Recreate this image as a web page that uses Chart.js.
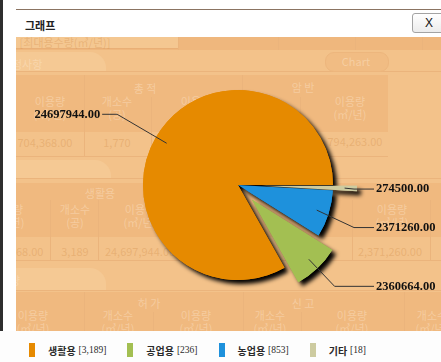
<!DOCTYPE html>
<html>
<head>
<meta charset="utf-8">
<script src="https://cdn.jsdelivr.net/npm/chart.js@4.4.0/dist/chart.umd.min.js"></script>
<style>
  html, body { margin: 0; padding: 0; background: #fff; }
  body { width: 441px; height: 362px; position: relative; overflow: hidden;
         font-family: "Noto Sans CJK KR", "Noto Sans", sans-serif; }
  .abs { position: absolute; }
  #frameLeft { left: 0; top: 0; width: 3px; height: 362px; background: #2f2f2f; }
  #topRule { left: 16px; top: 9px; width: 425px; height: 1px; background: #8b7462; }
  #title { left: 25px; top: 15px; font-weight: 700; font-size: 11px; color: #222; line-height: 20px; }
  #closeBtn { left: 412px; top: 13px; width: 36px; height: 18px; border: 1px solid #a3a3a3; border-radius: 3px;
              background: linear-gradient(#ffffff, #ececec); font: 12px "Liberation Sans", sans-serif;
              color: #111; line-height: 18px; text-indent: 12px; box-sizing: content-box; }
  #page { left: 16px; top: 37px; width: 425px; height: 294px; background: #F3C28A; overflow: hidden; }
  #page div { position: absolute; }
  .hd { color: rgba(255, 236, 214, 0.38); font-size: 11px; line-height: 13px; text-align: center; white-space: nowrap; }
  .num { color: rgba(212, 146, 80, 0.38); font-size: 11px; line-height: 13px; text-align: center; white-space: nowrap; }
  #chartBox { left: 16px; top: 37px; width: 425px; height: 294px; }
  #legend { left: 0; top: 331px; width: 441px; height: 31px; background: #fdfdfd;
            box-sizing: border-box; padding: 12px 0 0 29px; display: flex; }
  .item { display: flex; align-items: center; height: 14px; margin-right: 21px; }
  .sw { width: 6px; height: 14px; margin-right: 13px; }
  .kr { font-weight: 700; font-size: 10px; color: #2a2a2a; }
  .cnt { font-family: "Liberation Serif", serif; font-size: 9.5px; color: #2a2a2a; margin-left: 3px; }
</style>
</head>
<body>
<div id="frameLeft" class="abs"></div>
<div id="topRule" class="abs"></div>
<div id="title" class="abs">그래프</div>
<div id="closeBtn" class="abs">X</div>
<div id="page" class="abs"></div>
<div id="chartBox" class="abs"><canvas id="pie" width="425" height="294"></canvas></div>
<div id="legend" class="abs"></div>

<script>
// ---- chart data (legend order) ----
const categories  = ['생활용', '공업용', '농업용', '기타'];
const usage       = [24697944, 2360664, 2371260, 274500];   // 이용량
const siteCounts  = [3189, 236, 853, 18];                    // 개소수
const sliceColors = ['#E68A00', '#A3BF52', '#1E91DC', '#CDCBA0'];
const explode     = [0, 20, 0, 24];                          // slice pull-out, px

// slices run counter-clockwise from 3 o'clock, so the pie gets them reversed
const order = categories.map((_, i) => categories.length - 1 - i);

// ---- faded page underneath the dialog ----
const page = document.getElementById('page');
function box(x, y, w, h, css) {
  const d = document.createElement('div');
  d.style.cssText = `left:${x - 16}px;top:${y - 37}px;width:${w}px;height:${h}px;` + (css || '');
  page.appendChild(d);
}
function txt(cx, cy, html, cls) {
  const d = document.createElement('div');
  d.className = cls;
  d.innerHTML = html;
  page.appendChild(d);
  const r = d.getBoundingClientRect();
  d.style.left = (cx - 16 - r.width / 2) + 'px';
  d.style.top = (cy - 37 - r.height / 2) + 'px';
}
const band = 'background:#F0B97F;';
const tab = 'background:#F5C994;border-top-right-radius:16px;';
const rule = 'background:#EBB47C;';

box(16, 37, 425, 13, 'background:#EFB77D;');
box(16, 37, 162, 11, 'background:#F4C791;border-right:1px solid #E9AF76;border-bottom:1px solid #E9AF76;');
[178, 278, 355, 422].forEach(x => box(x, 37, 1, 13, rule));
box(16, 52, 90, 19, tab);
box(16, 71, 425, 1, rule);
box(325, 52, 62, 18, 'background:#F1BC83;border:1px solid #EDB67D;border-radius:9px;');
box(16, 75, 372, 57, band);
box(16, 156, 372, 1, rule);
[[84, 75, 81], [151, 97, 59], [242, 75, 81], [300, 97, 59]].forEach(v => box(v[0], v[1], 1, v[2], rule));
box(16, 160, 95, 18, tab);
box(16, 178, 425, 1, rule);
box(16, 183, 425, 54, band);
box(16, 260, 425, 1, rule);
[50, 98, 352, 430].forEach(x => box(x, 200, 1, 60, rule));
box(16, 268, 90, 22, tab);
box(16, 290, 425, 1, rule);
box(16, 292, 425, 39, band);
[[84, 292, 39], [153, 312, 19], [243, 292, 39], [301, 312, 19], [404, 292, 39]].forEach(v => box(v[0], v[1], 1, v[2], rule));

txt(65, 42, '[최대용수량(㎥/년)]', 'num');
txt(22, 64, '수정사항', 'hd');
txt(356, 61, 'Chart', 'hd');
txt(145, 88, '총 적', 'hd');
txt(303, 87, '암 반', 'hd');
txt(50, 108, '이용량<br>(㎥/년)', 'hd');
txt(117, 108, '개소수<br>(공)', 'hd');
txt(196, 108, '이용량<br>(㎥/년)', 'hd');
txt(350, 108, '이용량<br>(㎥/년)', 'hd');
txt(45, 142, '704,368.00', 'num');
txt(117, 142, '1,770', 'num');
txt(355, 141, '794,263.00', 'num');
txt(100, 193, '생활용', 'hd');
txt(8, 216, '이용량<br>(㎥/년)', 'hd');
txt(75, 216, '개소수<br>(공)', 'hd');
txt(140, 216, '이용량<br>(㎥/년)', 'hd');
txt(392, 216, '이용량<br>(㎥/년)', 'hd');
txt(16, 251, '704,368.00', 'num');
txt(75, 251, '3,189', 'num');
txt(140, 251, '24,697,944.00', 'num');
txt(390, 251, '2,371,260.00', 'num');
txt(5, 280, '이용량', 'hd');
txt(149, 303, '허 가', 'hd');
txt(303, 303, '신 고', 'hd');
[[33, '이용량'], [118, '개소수'], [196, '이용량'], [270, '개소수'], [352, '이용량'], [432, '개소수']]
  .forEach(t => txt(t[0], 322, t[1] + '<br>(㎥/년)', 'hd'));

// ---- pie ----
const pieExplode = order.map(i => explode[i]);

const explodePlugin = {
  id: 'explodeSlices',
  afterDatasetUpdate(chart, args) {
    args.meta.data.forEach((arc, k) => {
      const mid = (arc.startAngle + arc.endAngle) / 2;
      arc.x += Math.cos(mid) * pieExplode[k];
      arc.y += Math.sin(mid) * pieExplode[k];
    });
  }
};

const shadowPlugin = {
  id: 'sliceShadow',
  beforeDatasetsDraw(chart) {
    const ctx = chart.ctx;
    ctx.save();
    ctx.shadowColor = '#000';
    ctx.shadowBlur = 4;
    ctx.shadowOffsetX = 4;
    ctx.shadowOffsetY = 4;
    chart.getDatasetMeta(0).data.forEach(arc => arc.draw(ctx));
    ctx.restore();
  }
};

const valueLabelPlugin = {
  id: 'valueLabels',
  afterDatasetsDraw(chart) {
    const ctx = chart.ctx;
    const ca = chart.chartArea;
    const cx = (ca.left + ca.right) / 2, cy = (ca.top + ca.bottom) / 2;
    const values = chart.data.datasets[0].data;
    ctx.save();
    ctx.font = 'bold 12.5px "Liberation Serif", serif';
    ctx.textBaseline = 'middle';
    ctx.fillStyle = '#111';
    ctx.strokeStyle = '#333';
    ctx.lineWidth = 1;
    chart.getDatasetMeta(0).data.forEach((arc, k) => {
      const mid = (arc.startAngle + arc.endAngle) / 2;
      const c = Math.cos(mid), s = Math.sin(mid), R = arc.outerRadius;
      const ix = arc.x + c * R * 0.87, iy = arc.y + s * R * 0.87;
      const ly = cy + s * (R + 45);
      let ex, endX, tx;
      if (c >= 0) {
        const labelX = cx + R + 43;
        ex = Math.min(cx + c * (R + 45), labelX - 22);
        endX = labelX - 2;
        tx = labelX;
        ctx.textAlign = 'left';
      } else {
        ex = cx + c * (R + 45);
        endX = ex - 15;
        tx = ex - 17;
        ctx.textAlign = 'right';
      }
      ctx.beginPath();
      ctx.moveTo(ix, iy);
      ctx.lineTo(ex, ly);
      ctx.lineTo(endX, ly);
      ctx.stroke();
      ctx.fillText(Number(values[k]).toFixed(2), tx, ly);
    });
    ctx.restore();
  }
};

new Chart(document.getElementById('pie'), {
  type: 'pie',
  data: {
    labels: order.map(i => categories[i]),
    datasets: [{
      data: order.map(i => usage[i]),
      backgroundColor: order.map(i => sliceColors[i]),
      borderWidth: 0
    }]
  },
  options: {
    responsive: false,
    animation: false,
    events: [],
    devicePixelRatio: 1,
    radius: 95,
    rotation: 90,
    layout: { padding: { left: 19, top: 2 } },
    plugins: { legend: { display: false }, tooltip: { enabled: false } }
  },
  plugins: [explodePlugin, shadowPlugin, valueLabelPlugin]
});

// ---- legend ----
const legend = document.getElementById('legend');
categories.forEach((name, i) => {
  const item = document.createElement('div');
  item.className = 'item';
  item.innerHTML = `<span class="sw" style="background:${sliceColors[i]}"></span>` +
    `<span class="kr">${name}</span><span class="cnt">[${siteCounts[i].toLocaleString('en-US')}]</span>`;
  legend.appendChild(item);
});
</script>
</body>
</html>
